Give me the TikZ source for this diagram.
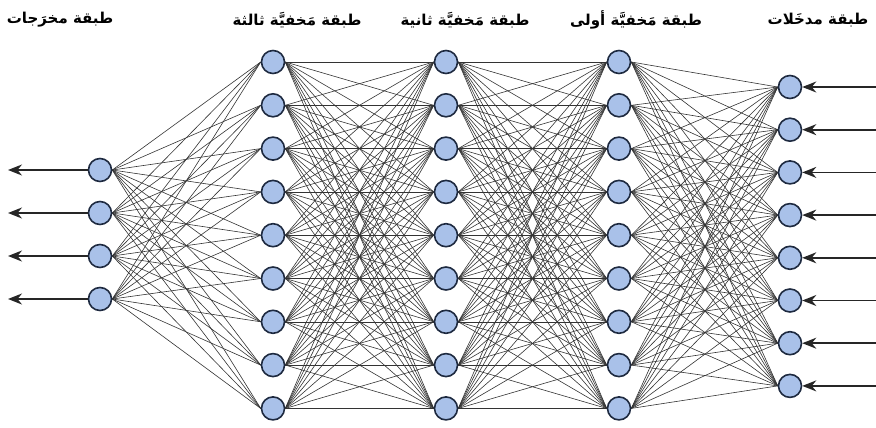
\documentclass[tikz,border=0pt]{standalone}
\usepackage{fontspec}
\newfontfamily\arabicfont[Script=Arabic]{DejaVu Sans}
\TeXXeTstate=1
\usetikzlibrary{arrows.meta}
\pgfdeclarelayer{edges}
\pgfsetlayers{edges,main}
\definecolor{nfill}{HTML}{A9C1E9}
\definecolor{nline}{HTML}{1E2A40}
\definecolor{eline}{HTML}{333333}
\tikzset{
  neuron/.style={circle,draw=nline,fill=nfill,line width=1.6pt,minimum size=23pt,inner sep=0pt},
  link/.style={draw=eline,line width=0.6pt},
  ioarrow/.style={draw=black!85,line width=1.8pt,-{Stealth[length=14pt,width=11pt]}},
  lbl/.style={font=\arabicfont\bfseries\fontsize{15}{18}\selectfont,anchor=center}
}
\begin{document}
\begin{tikzpicture}[x=1pt,y=-1pt]
\useasboundingbox (0,0) rectangle (876,428);
% nodes
\foreach \i in {1,...,4} {
  \node[neuron] (o\i) at (100,{170+43*(\i-1)}) {};
  \coordinate (oe\i) at (8,{170+43*(\i-1)});
}
\foreach \i in {1,...,9} {
  \node[neuron] (c\i) at (273,{62+43.3*(\i-1)}) {};
  \node[neuron] (b\i) at (446,{62+43.3*(\i-1)}) {};
  \node[neuron] (a\i) at (619,{62+43.3*(\i-1)}) {};
}
\foreach \i in {1,...,8} {
  \node[neuron] (n\i) at (790,{87+42.7*(\i-1)}) {};
  \coordinate (ns\i) at (876,{87+42.7*(\i-1)});
}
% connections
\begin{pgfonlayer}{edges}
\foreach \i in {1,...,4} \foreach \j in {1,...,9} \draw[link] (o\i.east) -- (c\j.west);
\foreach \i in {1,...,9} \foreach \j in {1,...,9} {
  \draw[link] (c\i.east) -- (b\j.west);
  \draw[link] (b\i.east) -- (a\j.west);
}
\foreach \i in {1,...,9} \foreach \j in {1,...,8} \draw[link] (a\i.east) -- (n\j.west);
\end{pgfonlayer}
% io arrows
\foreach \i in {1,...,4} \draw[ioarrow] (o\i.west) -- (oe\i);
\foreach \i in {1,...,8} \draw[ioarrow] (ns\i) -- (n\i.east);
% labels
\node[lbl] (l1) at (60,20) {\beginR طبقة مخرَجات\endR};
\node[lbl] (l2) at (297,20) {\beginR طبقة مَخفيَّة ثالثة\endR};
\node[lbl] (l3) at (465,20) {\beginR طبقة مَخفيَّة ثانية\endR};
\node[lbl] (l4) at (636,20) {\beginR طبقة مَخفيَّة أولى\endR};
\node[lbl] (l5) at (818,20) {\beginR طبقة مدخَلات\endR};
\end{tikzpicture}
\end{document}
